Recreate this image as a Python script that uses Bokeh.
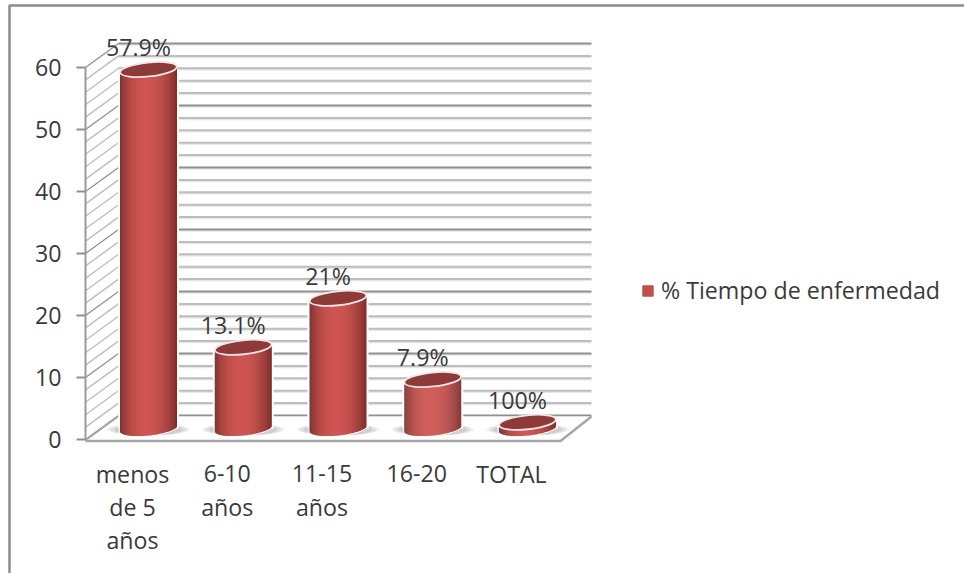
import math

from bokeh.core.properties import value
from bokeh.embed import file_html
from bokeh.models import Legend, LegendItem, Range1d
from bokeh.plotting import figure
from bokeh.resources import INLINE

# Chart values. TOTAL is stored as the fraction 1, which is why its cylinder is so short
# while its label reads 100%.
categories = [["menos", "de 5", "años"], ["6-10", "años"], ["11-15", "años"], ["16-20"], ["TOTAL"]]
values = [57.9, 13.1, 21, 7.9, 1]
value_labels = ["57.9%", "13.1%", "21%", "7.9%", "100%"]
y_ticks = [0, 10, 20, 30, 40, 50, 60]
series_name = "% Tiempo de enfermedad"

W, H = 964, 573
PX_PER_VALUE = 6.2
Y0 = 439          # canvas row of value 0 on the front axis
X0, STEP = 148.0, 94.75  # canvas column of the first category and the category spacing

# The frame fills the canvas; both scales are chosen so one category and one value keep
# fixed pixel sizes.
p = figure(width=W, height=H, output_backend="svg", toolbar_location=None,
           x_range=Range1d(-X0 / STEP, (W - X0) / STEP),
           y_range=Range1d((Y0 - H) / PX_PER_VALUE, Y0 / PX_PER_VALUE),
           min_border=0, border_fill_color="white", background_fill_color="white",
           outline_line_color=None)
p.axis.visible = False
p.grid.visible = False


def dx(px):
    return px / STEP


def dy(px):
    return px / PX_PER_VALUE


def col(px):
    return (px - X0) / STEP


def row(px):
    return (Y0 - px) / PX_PER_VALUE


FONT_NAME = "Open Sans"
FONT = value(FONT_NAME)
FONT_SIZE = "23.2px"
TEXT = "#3a3a3a"

# Outer frame of the chart area
p.line([col(9), col(9), col(964)], [row(573), row(5), row(5)], line_color="#8c8c8c", line_width=2.5)

# 3D box: depth offset of the back wall
DEPTH_X, DEPTH_Y = 33, 24
WALL_L, WALL_R, FRONT_R = 85, 591, 560

for v in range(0, 62, 2):
    major = v % 10 == 0
    color = "#8f8f8f" if major else "#bdbdbd"
    y_front = v
    y_back = v + dy(DEPTH_Y)
    # back wall gridline, with its faint shadow
    p.line([col(WALL_L + DEPTH_X), col(WALL_R)], [y_back - dy(1.5)] * 2, line_color="#e6e6e6", line_width=1.5)
    p.line([col(WALL_L + DEPTH_X), col(WALL_R)], [y_back] * 2, line_color=color, line_width=2)
    # side wall diagonal
    p.line([col(WALL_L), col(WALL_L + DEPTH_X)], [y_front, y_back], line_color=color, line_width=1.3)

# Floor
floor_back = dy(DEPTH_Y) - dy(1)
p.patch([col(WALL_L), col(WALL_L + DEPTH_X), col(WALL_R), col(FRONT_R)],
        [-dy(1), floor_back, floor_back, -dy(1)],
        fill_color="white", line_color=None)
p.line([col(WALL_L), col(FRONT_R), col(WALL_R)], [-dy(1.5), -dy(1.5), floor_back],
       line_color="#a6a6a6", line_width=2.5)
p.line([col(WALL_L), col(WALL_L + DEPTH_X)], [-dy(1), floor_back], line_color="#a6a6a6", line_width=1.5)

# Vertical axis and ticks
p.line([col(WALL_L), col(WALL_L)], [0, 60], line_color="#9a9a9a", line_width=2)
p.segment([col(76)] * len(y_ticks), y_ticks, [col(WALL_L)] * len(y_ticks), y_ticks,
          line_color="#8f8f8f", line_width=2)
p.text([col(61)] * len(y_ticks), y_ticks, text=[str(t) for t in y_ticks],
       text_font=FONT, text_font_size=FONT_SIZE, text_color=TEXT, text_align="right", text_baseline="middle")


def mix(a, b, t):
    return tuple(a[i] + (b[i] - a[i]) * t for i in range(3))


def body_color(t):
    """Cylinder shading for t in [-1, 1] across its width."""
    dark_l, mid, dark_r = (130, 50, 48), (205, 85, 82), (120, 46, 44)
    s = abs((t + 0.1) / (1.1 if t > -0.1 else 0.9))
    c = mix(mid, dark_r if t > -0.1 else dark_l, min(s, 1) ** 2.2)
    return "#%02x%02x%02x" % tuple(round(x) for x in c)


# Cylinders
CYL_W, CYL_H = 57, 14
BASE = dy(11)
TILT = math.radians(6)
slope = math.tan(TILT)

for i, v in enumerate(values):
    top = BASE + v
    # soft floor shadow
    for grow, alpha in ((26, 0.10), (20, 0.14), (12, 0.18)):
        p.ellipse([i], [BASE - dy(1)], width=dx(CYL_W + grow), height=dy(CYL_H - 2),
                  fill_color="#808080", fill_alpha=alpha, line_color=None)
    # light rim separating the cylinder from the gridlines
    p.quad(left=[i - dx(CYL_W / 2 + 2)], right=[i + dx(CYL_W / 2 + 2)], top=[top], bottom=[BASE],
           fill_color="white", line_color=None)
    p.ellipse([i], [BASE], width=dx(CYL_W + 3), height=dy(CYL_H + 2), angle=TILT,
              fill_color="white", line_color=None)

    lefts, rights, tops, bottoms, colors = [], [], [], [], []
    for k in range(CYL_W):
        x_c = k + 0.5 - CYL_W / 2
        t = x_c / (CYL_W / 2)
        drop = math.sqrt(max(1 - t * t, 0)) * CYL_H / 2
        lefts.append(i + dx(x_c - 0.5))
        rights.append(i + dx(x_c + 1.0 if k < CYL_W - 1 else x_c + 0.5))
        tops.append(top + dy(slope * x_c))
        bottoms.append(BASE - dy(drop) + dy(slope * x_c))
        colors.append(body_color(t))
    p.quad(left=lefts, right=rights, top=tops, bottom=bottoms, fill_color=colors, line_color=None)

    p.ellipse([i], [top], width=dx(CYL_W), height=dy(CYL_H), angle=TILT,
              fill_color="#8e3a38", line_color="#f4e6e5", line_width=1.8)

# Value labels sit up and to the left of each cylinder's top
p.text([i + dx(-10) for i in range(len(values))],
       [BASE + v + dy(22.5) for v in values],
       text=value_labels, text_font=FONT, text_font_size=FONT_SIZE, text_color=TEXT,
       text_align="center", text_baseline="middle")

# Category labels, wrapped over up to three rows
LINE_H = 33
for i, lines in enumerate(categories):
    for j, line in enumerate(lines):
        p.text([i + dx(-16)], [row(473 + j * LINE_H)], text=[line], text_font=FONT,
               text_font_size=FONT_SIZE, text_color=TEXT, text_align="center", text_baseline="middle")

# Legend: the swatch renderer has zero size, it only supplies the series colour
swatch = p.quad(left=[col(642)], right=[col(642)], top=[row(291)], bottom=[row(291)],
                fill_color="#c0504d", line_color="#c0504d")
legend = Legend(items=[LegendItem(label=series_name, renderers=[swatch])],
                location=(641, H - 306), orientation="vertical",
                glyph_width=13, glyph_height=13, label_standoff=7, padding=0, margin=0,
                spacing=0, border_line_color=None, background_fill_alpha=0,
                label_text_font=FONT_NAME, label_text_font_size=FONT_SIZE, label_text_color=TEXT,
                label_height=26)
p.add_layout(legend)

open("out.html", "w").write(file_html(p, INLINE))
